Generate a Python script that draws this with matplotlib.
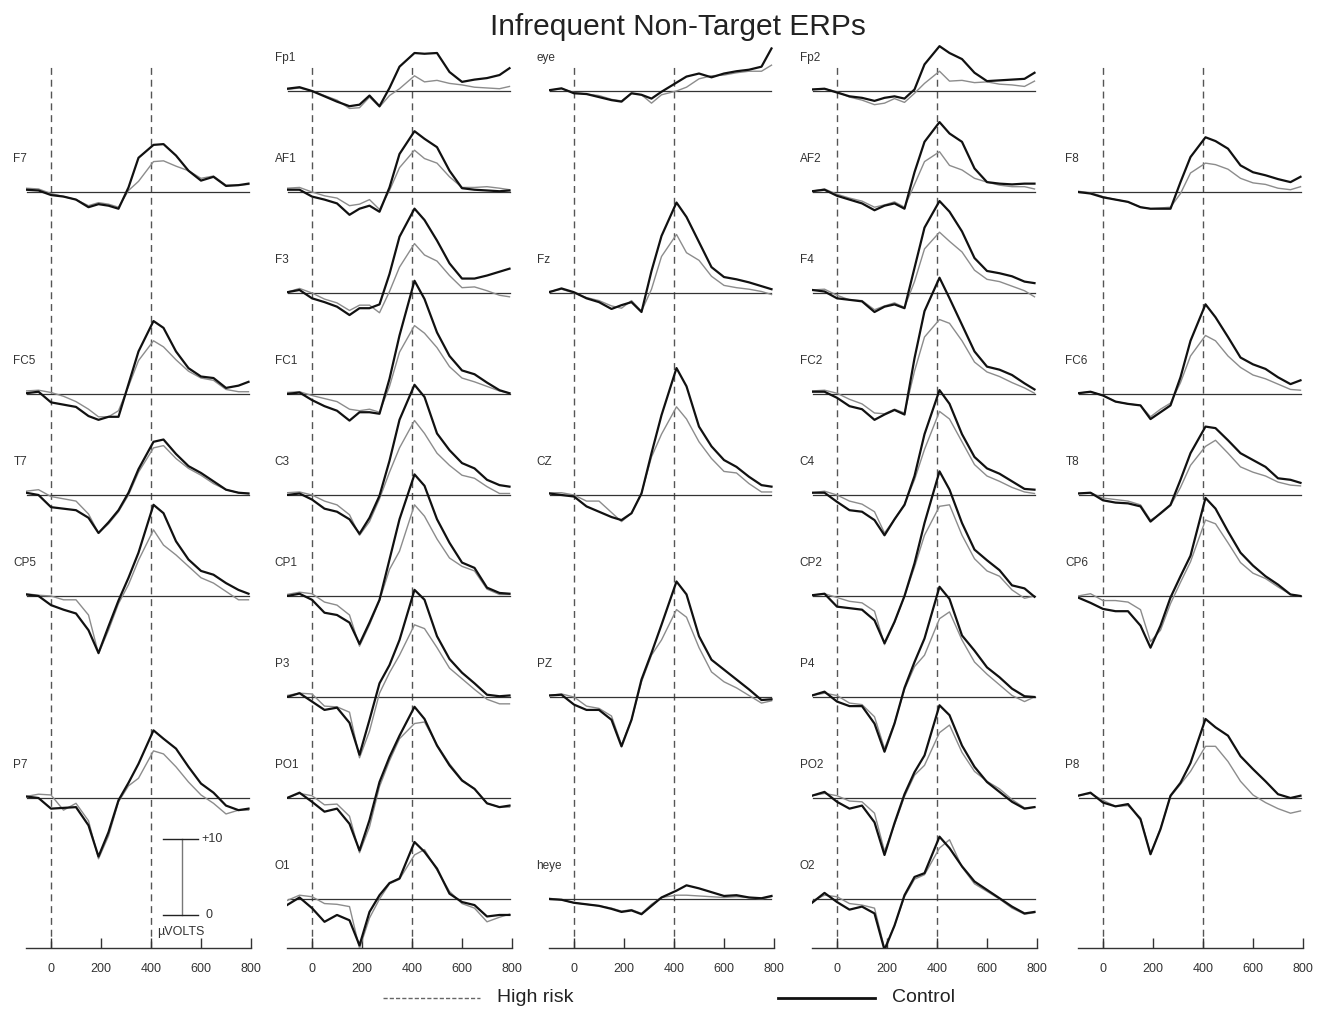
import matplotlib
matplotlib.use('Agg')
import matplotlib.pyplot as plt
from matplotlib.lines import Line2D

plt.rcParams['font.family'] = ['Liberation Sans', 'DejaVu Sans']

# sample times (ms) shared by every waveform
TIMES = [-100, -50, 0, 50, 100, 150, 190, 230, 270, 310, 350, 410, 450, 500, 550, 600, 650, 700, 750, 790]

# amplitudes in microvolts, Control (_C) and High risk (_H)
F7_C = [0.3, 0.2, -0.4, -0.6, -1.0, -2.0, -1.6, -1.8, -2.2, 0.6, 4.5, 6.2, 6.3, 4.8, 2.8, 1.5, 2.0, 0.8, 0.9, 1.1]
F7_H = [0.5, 0.4, -0.2, -0.6, -1.0, -1.8, -1.4, -1.6, -2.0, 0.2, 1.4, 4.0, 4.1, 3.4, 2.8, 1.8, 2.1, 0.9, 0.9, 1.0]
FC5_C = [0.1, 0.3, -1.1, -1.4, -1.7, -2.9, -3.4, -3.0, -3.0, 1.3, 5.6, 9.6, 8.7, 5.6, 3.4, 2.3, 2.1, 0.8, 1.1, 1.6]
FC5_H = [0.4, 0.5, 0.2, -0.3, -1.0, -2.0, -3.0, -3.0, -2.2, 1.0, 4.4, 7.0, 6.2, 4.5, 3.0, 2.1, 1.8, 0.6, 0.3, 0.3]
T7_C = [0.3, 0.0, -1.6, -1.8, -2.0, -3.0, -5.0, -3.6, -2.0, 0.3, 3.4, 7.0, 7.3, 5.4, 3.8, 2.9, 1.8, 0.7, 0.3, 0.2]
T7_H = [0.5, 0.7, -0.2, -0.5, -0.8, -2.5, -5.0, -3.8, -2.2, 0.0, 3.0, 6.2, 6.5, 4.8, 3.5, 2.6, 1.5, 0.7, 0.3, 0.2]
CP5_C = [0.2, 0.0, -1.2, -1.8, -2.3, -4.5, -7.5, -4.0, -0.6, 2.4, 5.7, 12.0, 10.9, 7.2, 4.8, 3.3, 2.8, 1.7, 0.8, 0.3]
CP5_H = [0.3, 0.1, 0.0, -0.5, -0.5, -2.5, -7.6, -4.5, -1.0, 1.5, 4.7, 8.7, 6.7, 5.4, 3.9, 2.4, 1.7, 0.6, -0.5, -0.5]
P7_C = [0.2, 0.0, -1.4, -1.3, -1.2, -3.6, -7.7, -4.5, -0.3, 2.0, 4.5, 8.9, 7.8, 6.5, 4.1, 1.9, 0.7, -1.0, -1.6, -1.4]
P7_H = [0.2, 0.5, 0.4, -1.6, -0.7, -3.0, -8.0, -5.0, -0.5, 1.6, 2.6, 6.2, 5.8, 4.1, 2.1, 0.4, -0.7, -2.1, -1.6, -1.6]

FP1_C = [0.3, 0.5, 0.0, -0.7, -1.4, -2.0, -1.8, -0.6, -2.0, 0.4, 3.2, 5.0, 4.9, 5.0, 2.5, 1.2, 1.5, 1.7, 2.1, 3.0]
FP1_H = [0.2, 0.4, 0.0, -0.6, -1.2, -2.3, -2.2, -0.8, -2.1, -0.6, 0.3, 2.0, 1.2, 1.4, 1.0, 0.8, 0.5, 0.4, 0.3, 0.6]
AF1_C = [0.3, 0.3, -0.6, -1.0, -1.5, -3.0, -2.2, -1.8, -2.6, 0.6, 5.0, 8.0, 7.0, 5.9, 2.8, 0.5, 0.3, 0.2, 0.1, 0.2]
AF1_H = [0.5, 0.6, 0.0, -0.5, -0.8, -1.8, -1.6, -1.0, -2.3, 0.2, 3.2, 5.5, 4.4, 3.8, 2.0, 0.6, 0.6, 0.7, 0.5, 0.3]
F3_C = [0.1, 0.4, -0.7, -1.2, -1.8, -2.9, -2.0, -2.0, -1.5, 2.5, 7.4, 11.1, 9.6, 6.9, 3.9, 1.9, 1.9, 2.3, 2.8, 3.2]
F3_H = [0.1, 0.6, 0.0, -0.8, -1.3, -2.3, -1.6, -1.6, -2.6, 0.2, 3.4, 6.5, 5.0, 4.2, 2.3, 0.7, 0.8, 0.3, -0.3, -0.5]
FC1_C = [0.0, 0.2, -0.8, -1.6, -2.2, -3.5, -2.4, -2.4, -2.6, 2.0, 7.7, 14.9, 12.5, 8.1, 5.0, 3.1, 2.6, 1.5, 0.5, 0.1]
FC1_H = [0.2, 0.3, -0.2, -0.6, -1.0, -2.0, -2.2, -2.0, -2.4, 1.0, 5.5, 9.0, 8.0, 6.1, 3.6, 2.1, 1.6, 1.0, 0.4, 0.1]
C3_C = [0.0, 0.2, -0.6, -1.8, -2.2, -3.2, -5.1, -3.0, -0.1, 4.5, 9.9, 14.5, 12.9, 8.1, 5.9, 4.2, 3.5, 2.0, 1.3, 1.1]
C3_H = [0.3, 0.4, 0.0, -0.8, -1.3, -2.6, -5.3, -3.5, -0.5, 3.0, 6.2, 9.8, 8.1, 5.5, 3.9, 2.6, 2.2, 1.1, 0.2, 0.2]
CP1_C = [0.0, 0.3, -0.5, -2.2, -2.5, -3.5, -6.3, -3.5, -0.5, 4.8, 10.1, 16.0, 14.5, 10.1, 7.0, 4.4, 3.7, 1.1, 0.4, 0.3]
CP1_H = [0.2, 0.5, 0.3, -0.8, -1.2, -2.5, -6.6, -3.8, -0.6, 3.5, 5.9, 12.0, 10.5, 7.5, 5.0, 3.9, 3.3, 0.9, 0.2, 0.2]
P3_C = [0.0, 0.5, -0.6, -1.7, -1.4, -3.4, -7.6, -3.0, 1.8, 4.2, 7.5, 14.1, 12.8, 8.0, 5.0, 3.2, 1.8, 0.3, 0.1, 0.2]
P3_H = [0.2, 0.5, 0.4, -1.2, -1.3, -2.0, -8.0, -4.5, 0.5, 3.2, 5.5, 9.5, 9.0, 6.5, 3.8, 2.4, 1.0, -0.3, -0.9, -0.9]
PO1_C = [0.0, 0.7, -0.5, -1.8, -1.4, -3.4, -6.9, -2.9, 2.1, 5.4, 8.2, 12.0, 10.4, 6.9, 4.3, 2.3, 1.2, -0.7, -1.2, -1.0]
PO1_H = [0.0, 0.6, 0.3, -0.9, -0.8, -2.4, -7.2, -3.8, 1.5, 4.9, 7.8, 9.8, 10.0, 7.0, 4.5, 2.4, 1.2, -0.7, -1.2, -1.2]
O1_C = [-0.8, 0.2, -1.2, -3.0, -2.1, -2.8, -6.1, -1.7, 0.5, 2.1, 2.7, 7.5, 6.2, 4.0, 0.7, -0.4, -0.8, -2.3, -2.1, -2.1]
O1_H = [-0.2, 0.5, 0.3, -0.6, -0.7, -1.0, -6.5, -2.5, 0.0, 2.0, 2.6, 5.8, 6.5, 3.8, 1.0, -0.6, -1.2, -3.0, -2.4, -2.0]

EYE_C = [0.1, 0.35, -0.3, -0.4, -0.8, -1.2, -1.4, -0.3, -0.5, -1.0, -0.1, 1.1, 1.9, 2.3, 1.8, 2.3, 2.6, 2.8, 3.2, 5.6]
EYE_H = [0.1, 0.3, -0.2, -0.4, -0.6, -1.1, -1.3, -0.3, -0.5, -1.6, -0.5, 0.0, 0.5, 1.6, 2.0, 2.1, 2.4, 2.6, 2.6, 3.4]
FZ_C = [0.1, 0.6, 0.1, -0.7, -1.2, -2.1, -1.6, -1.2, -2.5, 2.9, 7.5, 11.9, 10.0, 6.7, 3.4, 2.1, 1.8, 1.4, 0.9, 0.5]
FZ_H = [0.2, 0.5, 0.0, -0.6, -1.0, -1.7, -2.0, -1.0, -2.4, 0.5, 4.8, 7.7, 5.3, 4.3, 2.2, 1.0, 0.7, 0.5, 0.2, -0.2]
CZ_C = [0.2, 0.0, -0.2, -1.5, -2.2, -2.9, -3.3, -2.4, 0.2, 5.5, 10.5, 16.7, 14.3, 9.0, 6.4, 4.6, 3.7, 2.4, 1.3, 1.1]
CZ_H = [0.3, 0.3, 0.0, -0.8, -0.8, -2.3, -3.5, -2.4, 0.3, 5.0, 8.0, 11.6, 10.0, 7.0, 4.8, 3.1, 2.9, 1.5, 0.4, 0.4]
PZ_C = [0.2, 0.3, -1.0, -1.7, -1.7, -3.0, -6.5, -3.0, 2.3, 5.8, 9.5, 15.2, 13.5, 8.0, 4.9, 3.6, 2.3, 1.0, -0.4, -0.3]
PZ_H = [0.2, 0.4, 0.0, -1.2, -1.5, -2.5, -6.3, -3.0, 2.0, 5.5, 7.5, 11.5, 10.5, 6.5, 3.3, 2.0, 1.2, 0.2, -0.8, -0.5]
HEYE_C = [0.0, -0.1, -0.5, -0.7, -0.9, -1.3, -1.7, -1.5, -2.0, -0.9, 0.2, 1.1, 1.8, 1.4, 0.9, 0.4, 0.5, 0.2, 0.1, 0.4]
HEYE_H = [0.1, -0.1, -0.5, -0.7, -0.9, -1.2, -1.6, -1.4, -1.9, -0.7, 0.2, 0.5, 0.5, 0.4, 0.3, 0.2, 0.3, 0.2, 0.0, 0.3]

FP2_C = [0.2, 0.3, -0.2, -0.7, -0.9, -1.3, -0.9, -0.7, -1.0, 0.2, 3.5, 5.9, 5.0, 4.2, 2.4, 1.3, 1.4, 1.5, 1.6, 2.4]
FP2_H = [0.2, 0.3, -0.1, -0.8, -1.2, -1.8, -1.6, -1.0, -1.5, -0.3, 1.0, 2.6, 1.3, 1.4, 1.1, 1.2, 0.9, 0.8, 0.6, 1.3]
AF2_C = [0.1, 0.3, -0.5, -1.0, -1.5, -2.4, -1.8, -1.5, -2.2, 2.6, 6.6, 9.2, 7.7, 6.6, 3.1, 1.3, 1.1, 1.0, 1.1, 1.1]
AF2_H = [0.1, 0.4, -0.3, -0.8, -1.2, -2.0, -1.7, -1.3, -2.0, 1.0, 4.0, 5.3, 3.5, 2.9, 1.8, 1.3, 0.9, 0.7, 0.7, 0.4]
F4_C = [0.4, 0.2, -0.7, -0.9, -1.1, -2.5, -1.8, -1.5, -2.0, 3.3, 8.6, 12.1, 10.7, 8.1, 4.6, 2.9, 2.6, 2.2, 1.5, 1.3]
F4_H = [0.4, 0.5, -0.3, -0.9, -1.0, -2.2, -1.7, -1.3, -1.9, 1.5, 5.8, 8.0, 6.8, 5.4, 3.0, 1.8, 1.5, 0.9, 0.3, -0.5]
FC2_C = [0.3, 0.3, -0.5, -1.6, -2.0, -3.4, -2.7, -2.1, -2.7, 4.7, 10.9, 15.3, 12.6, 9.1, 5.6, 3.6, 3.2, 2.5, 1.4, 0.6]
FC2_H = [0.4, 0.5, 0.1, -0.7, -1.3, -2.5, -2.6, -2.0, -2.5, 3.0, 7.5, 9.8, 9.3, 7.0, 4.2, 2.9, 2.3, 1.5, 0.8, 0.1]
C4_C = [0.3, 0.3, -0.9, -2.0, -2.2, -3.3, -5.3, -3.2, -1.3, 2.5, 8.0, 13.8, 12.0, 8.0, 5.0, 3.5, 2.8, 1.8, 0.8, 0.7]
C4_H = [0.3, 0.5, 0.0, -0.8, -1.2, -2.2, -5.0, -3.2, -1.2, 2.0, 6.0, 11.0, 10.0, 7.0, 4.0, 2.5, 1.8, 1.0, 0.4, 0.2]
CP2_C = [0.1, 0.3, -1.4, -1.6, -1.8, -3.2, -6.2, -3.4, 0.0, 4.3, 9.6, 16.4, 14.0, 9.6, 6.1, 4.7, 3.4, 1.4, 1.0, -0.1]
CP2_H = [0.1, 0.3, -0.2, -0.7, -0.9, -2.0, -6.4, -3.5, 0.0, 3.8, 8.0, 11.8, 12.0, 8.0, 4.9, 3.3, 2.6, 0.8, -0.3, 0.0]
P4_C = [0.2, 0.7, -0.6, -1.2, -1.2, -3.5, -7.2, -3.5, 1.2, 4.6, 7.7, 14.5, 12.9, 8.1, 6.1, 3.9, 2.6, 1.1, 0.1, 0.0]
P4_H = [0.2, 0.5, 0.2, -0.8, -1.0, -2.6, -6.8, -3.4, 1.0, 4.0, 5.5, 10.3, 11.2, 7.5, 4.6, 3.0, 1.6, 0.2, -0.6, 0.0]
PO2_C = [0.3, 0.8, -0.5, -1.4, -1.0, -3.2, -7.5, -3.3, 0.5, 3.4, 5.6, 12.2, 10.9, 6.9, 4.1, 2.1, 0.8, -0.5, -1.4, -1.2]
PO2_H = [0.3, 0.6, 0.3, -0.4, -0.5, -2.0, -7.0, -3.5, 0.2, 3.0, 4.3, 8.6, 9.6, 6.0, 3.5, 2.2, 1.2, -0.2, -1.3, -1.2]
O2_C = [-0.5, 0.8, -0.4, -1.4, -1.0, -1.9, -6.7, -3.5, 0.5, 2.9, 3.4, 8.2, 6.7, 4.3, 2.3, 1.2, 0.1, -1.0, -1.9, -1.7]
O2_H = [-0.3, 0.5, 0.3, -0.6, -0.8, -1.2, -6.5, -3.5, 0.3, 2.6, 3.2, 6.7, 7.8, 4.2, 2.0, 1.0, 0.0, -1.2, -2.0, -1.8]

F8_C = [0.0, -0.2, -0.7, -1.0, -1.3, -2.0, -2.2, -2.2, -2.2, 1.3, 4.6, 7.2, 6.7, 5.7, 3.5, 2.6, 2.2, 1.7, 1.3, 2.0]
F8_H = [0.1, -0.1, -0.6, -1.0, -1.3, -2.0, -2.2, -2.1, -2.0, -0.2, 2.5, 3.8, 3.6, 3.0, 1.8, 1.2, 1.0, 0.5, 0.3, 0.7]
FC6_C = [0.1, 0.3, -0.2, -1.0, -1.3, -1.5, -3.3, -2.4, -1.5, 2.2, 7.0, 11.8, 10.1, 7.5, 4.8, 3.9, 3.3, 2.2, 1.3, 1.8]
FC6_H = [0.1, 0.3, -0.2, -1.0, -1.3, -1.5, -3.0, -2.0, -1.2, 1.5, 5.0, 7.7, 7.0, 5.0, 3.5, 2.5, 2.0, 1.3, 0.6, 0.5]
T8_C = [0.2, 0.3, -0.7, -1.0, -1.1, -1.5, -3.5, -2.4, -1.3, 2.0, 5.5, 9.0, 8.8, 7.2, 5.5, 4.6, 3.7, 2.2, 2.0, 1.6]
T8_H = [0.2, 0.3, -0.4, -0.6, -0.8, -1.3, -3.3, -2.5, -1.4, 1.0, 3.9, 6.4, 7.2, 5.5, 3.7, 3.0, 2.5, 1.7, 1.3, 1.2]
CP6_C = [-0.2, -0.9, -1.7, -2.0, -2.0, -3.9, -6.8, -3.9, -0.2, 2.6, 5.3, 12.9, 11.5, 8.5, 5.7, 4.0, 2.6, 1.5, 0.2, 0.0]
CP6_H = [0.0, 0.3, -0.6, -0.6, -0.8, -1.8, -6.0, -4.5, -1.0, 1.8, 4.5, 10.0, 9.5, 7.0, 4.4, 3.0, 2.3, 1.2, 0.2, 0.0]
P8_C = [0.3, 0.7, -0.6, -1.1, -0.8, -2.8, -7.4, -4.1, 0.3, 2.0, 4.6, 10.4, 9.3, 8.2, 5.5, 3.8, 2.2, 0.5, 0.0, 0.3]
P8_H = [0.3, 0.6, -0.3, -1.1, -1.0, -2.6, -7.4, -4.0, 0.2, 1.8, 3.5, 6.8, 6.8, 4.8, 2.2, 0.4, -0.6, -1.4, -2.0, -1.7]

# (label, row, control, high risk) for each of the five columns
COLUMNS = [
    [("F7", 1, F7_C, F7_H), ("FC5", 3, FC5_C, FC5_H), ("T7", 4, T7_C, T7_H),
     ("CP5", 5, CP5_C, CP5_H), ("P7", 7, P7_C, P7_H)],
    [("Fp1", 0, FP1_C, FP1_H), ("AF1", 1, AF1_C, AF1_H), ("F3", 2, F3_C, F3_H),
     ("FC1", 3, FC1_C, FC1_H), ("C3", 4, C3_C, C3_H), ("CP1", 5, CP1_C, CP1_H),
     ("P3", 6, P3_C, P3_H), ("PO1", 7, PO1_C, PO1_H), ("O1", 8, O1_C, O1_H)],
    [("eye", 0, EYE_C, EYE_H), ("Fz", 2, FZ_C, FZ_H), ("CZ", 4, CZ_C, CZ_H),
     ("PZ", 6, PZ_C, PZ_H), ("heye", 8, HEYE_C, HEYE_H)],
    [("Fp2", 0, FP2_C, FP2_H), ("AF2", 1, AF2_C, AF2_H), ("F4", 2, F4_C, F4_H),
     ("FC2", 3, FC2_C, FC2_H), ("C4", 4, C4_C, C4_H), ("CP2", 5, CP2_C, CP2_H),
     ("P4", 6, P4_C, P4_H), ("PO2", 7, PO2_C, PO2_H), ("O2", 8, O2_C, O2_H)],
    [("F8", 1, F8_C, F8_H), ("FC6", 3, FC6_C, FC6_H), ("T8", 4, T8_C, T8_H),
     ("CP6", 5, CP6_C, CP6_H), ("P8", 7, P8_C, P8_H)],
]

XTICKS = [0, 200, 400, 600, 800]

W, H = 1328, 1014
PX_PER_UV = 7.6
ROW_STEP = 101 / PX_PER_UV          # vertical distance between rows, in uV
ZERO_X = [51, 312, 574, 837, 1103]  # pixel position of 0 ms in each column
TOP_PX, AXIS_PX, FIRST_ROW_PX = 40, 948, 91

fig = plt.figure(figsize=(W / 100, H / 100), dpi=100)

ymin = -(AXIS_PX - FIRST_ROW_PX) / PX_PER_UV
ymax = -(TOP_PX - FIRST_ROW_PX) / PX_PER_UV
dash_top = -(64 - FIRST_ROW_PX) / PX_PER_UV

for ci, col in enumerate(COLUMNS):
    left = ZERO_X[ci] - 25
    ax = fig.add_axes([left / W, 1 - AXIS_PX / H, 225 / W, (AXIS_PX - TOP_PX) / H])
    ax.set_xlim(-100, 800)
    ax.set_ylim(ymin, ymax)
    for s in ['top', 'right', 'left']:
        ax.spines[s].set_visible(False)
    ax.spines['bottom'].set_linewidth(1.0)
    ax.spines['bottom'].set_color('#333333')
    ax.set_yticks([])
    ax.set_xticks(XTICKS)
    ax.set_xticklabels([str(t) for t in XTICKS])
    ax.tick_params(axis='x', direction='in', length=7, width=1.0, color='#333333',
                   pad=11, labelsize=9, labelcolor='#333333')
    ax.patch.set_alpha(0)

    # stimulus onset and 400 ms markers
    for xv in [0, 400]:
        ax.plot([xv, xv], [ymin, dash_top], color='#555555', lw=1.0,
                ls=(0, (5, 3.5)), zorder=1)

    for name, row, ctrl, hr in col:
        off = -row * ROW_STEP
        ax.plot([-97, 790], [off, off], color='#333333', lw=0.9, zorder=2)
        ax.plot(TIMES, [v + off for v in hr], color='#8c8c8c', lw=1.0, zorder=3,
                solid_joinstyle='round')
        ax.plot(TIMES, [v + off for v in ctrl], color='#111111', lw=1.6, zorder=4,
                solid_joinstyle='round')
        ax.text(-150, off + 4.3, name, fontsize=8.5, color='#333333',
                ha='left', va='center', clip_on=False)

    if ci == 0:
        # calibration bar: 0 to +10 uV
        base = -(915 - FIRST_ROW_PX) / PX_PER_UV
        ax.plot([524, 524], [base, base + 10], color='#777777', lw=1.0)
        ax.plot([448, 588], [base + 10, base + 10], color='#222222', lw=1.0)
        ax.plot([448, 588], [base, base], color='#222222', lw=1.0)
        ax.text(600, base + 10, '+10', fontsize=9, color='#333333', va='center')
        ax.text(618, base, '0', fontsize=9, color='#333333', va='center')
        ax.text(520, base - 2.3, 'µVOLTS', fontsize=9, color='#333333',
                ha='center', va='center')

fig.text(678 / W, 1 - 27 / H, 'Infrequent Non-Target ERPs', fontsize=21.5,
         ha='center', va='center', color='#222222')

# legend along the bottom
lax = fig.add_axes([0, 0, 1, 1])
lax.set_xlim(0, W)
lax.set_ylim(H, 0)
lax.axis('off')
lax.add_line(Line2D([383, 480], [998, 998], color='#666666', lw=1.0, ls=(0, (3, 1.5))))
lax.text(497, 998, 'High risk', fontsize=14, va='center', ha='left', color='#222222')
lax.add_line(Line2D([778, 875], [998, 998], color='#111111', lw=2.0))
lax.text(892, 998, 'Control', fontsize=14, va='center', ha='left', color='#222222')

fig.savefig('out.png', dpi=100)
